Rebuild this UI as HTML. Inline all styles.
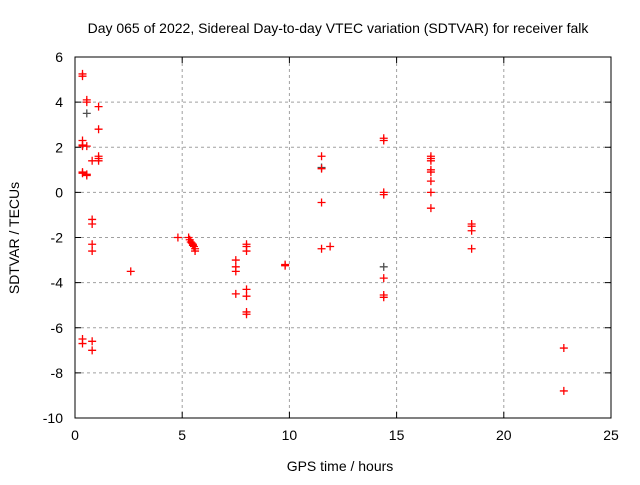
<!DOCTYPE html>
<html><head><meta charset="utf-8"><style>
body{margin:0;background:#fff;}
text{font-family:"Liberation Sans",sans-serif;fill:#000;}
</style></head><body>
<svg id="chart" width="640" height="480" xmlns="http://www.w3.org/2000/svg">
<text x="338" y="33" font-size="14" text-anchor="middle">Day 065 of 2022, Sidereal Day-to-day VTEC variation (SDTVAR) for receiver falk</text>
<text transform="translate(19,238) rotate(-90)" font-size="14" text-anchor="middle">SDTVAR / TECUs</text>
<text x="340" y="471" font-size="14" text-anchor="middle">GPS time / hours</text>
<g id="grid"></g><g id="axes"></g><g id="marks"></g>
</svg>
<script>
const xTicks=[0,5,10,15,20,25];
const yTicks=[-10,-8,-6,-4,-2,0,2,4,6];
const hours=[0.35,0.35,0.35,0.35,0.35,0.35,0.35,0.35,0.35,0.55,0.55,0.55,0.55,0.55,0.55,0.8,0.8,0.8,0.8,0.8,0.8,0.8,1.1,1.1,1.1,1.1,1.1,2.6,4.8,5.3,5.35,5.4,5.45,5.5,5.5,5.55,5.6,5.6,7.5,7.5,7.5,7.5,8.0,8.0,8.0,8.0,8.0,8.0,8.0,9.8,9.8,11.5,11.5,11.5,11.5,11.5,11.9,14.4,14.4,14.4,14.4,14.4,14.4,14.4,14.4,16.6,16.6,16.6,16.6,16.6,16.6,16.6,16.6,18.5,18.5,18.5,18.5,22.8,22.8];
const sdtvar=[5.25,5.15,2.3,2.1,2.05,0.9,0.85,-6.5,-6.7,4.1,4.0,3.5,2.05,0.8,0.75,1.4,-1.2,-1.4,-2.3,-2.6,-6.6,-7.0,3.8,2.8,1.6,1.5,1.4,-3.5,-2.0,-2.0,-2.1,-2.2,-2.25,-2.3,-2.35,-2.4,-2.5,-2.6,-3.0,-3.3,-3.5,-4.5,-2.3,-2.4,-2.6,-4.3,-4.6,-5.3,-5.4,-3.2,-3.25,1.6,1.1,1.05,-0.45,-2.5,-2.4,2.4,2.3,0,-0.1,-3.3,-3.8,-4.55,-4.65,1.6,1.5,1.4,1.0,0.9,0.5,0,-0.7,-1.4,-1.5,-1.7,-2.5,-6.9,-8.8];
const grayIdx=[11,52,61];
const X0=75,X1=611,Y0=418,Y1=57;
const xs=h=>X0+h*(X1-X0)/25;
const ys=v=>Y0-(v+10)*(Y0-Y1)/16;
const NS="http://www.w3.org/2000/svg";
function mk(t,a,p){const e=document.createElementNS(NS,t);for(const k in a)e.setAttribute(k,a[k]);p.appendChild(e);return e;}
const grid=document.getElementById('grid'),axes=document.getElementById('axes'),marks=document.getElementById('marks');
xTicks.forEach(t=>{const x=xs(t);
 if(t>0&&t<25){const g=mk('line',{x1:x,x2:x,y1:Y1,y2:Y0,stroke:'#a0a0a0','stroke-dasharray':'3,3'},grid);
 
 }
 mk('line',{x1:x,x2:x,y1:Y0,y2:Y0-6,stroke:'#000'},axes);mk('line',{x1:x,x2:x,y1:Y1,y2:Y1+6,stroke:'#000'},axes);
 const l=mk('text',{x:x,y:Y0+22,'font-size':14,'text-anchor':'middle'},axes);l.textContent=t;
 
 });
yTicks.forEach(t=>{const y=ys(t);
 if(t>-10&&t<6){const g=mk('line',{x1:X0,x2:X1,y1:y,y2:y,stroke:'#a0a0a0','stroke-dasharray':'3,3'},grid);
 
 }
 mk('line',{x1:X0,x2:X0+6,y1:y,y2:y,stroke:'#000'},axes);mk('line',{x1:X1,x2:X1-6,y1:y,y2:y,stroke:'#000'},axes);
 const l=mk('text',{x:X0-12,y:y+5,'font-size':14,'text-anchor':'end'},axes);l.textContent=t;
 
 });
const fr=mk('rect',{x:X0,y:Y1,width:X1-X0,height:Y0-Y1,fill:'none',stroke:'#000'},axes);


hours.forEach((h,i)=>{const x=xs(h),y=ys(sdtvar[i]);const c=grayIdx.includes(i)?'#505050':'#ff0000';
 const g=mk('path',{d:`M${x-4},${y}H${x+4}M${x},${y-4}V${y+4}`,stroke:c,'stroke-width':1.3},marks);
 
 });
</script>
</body></html>
